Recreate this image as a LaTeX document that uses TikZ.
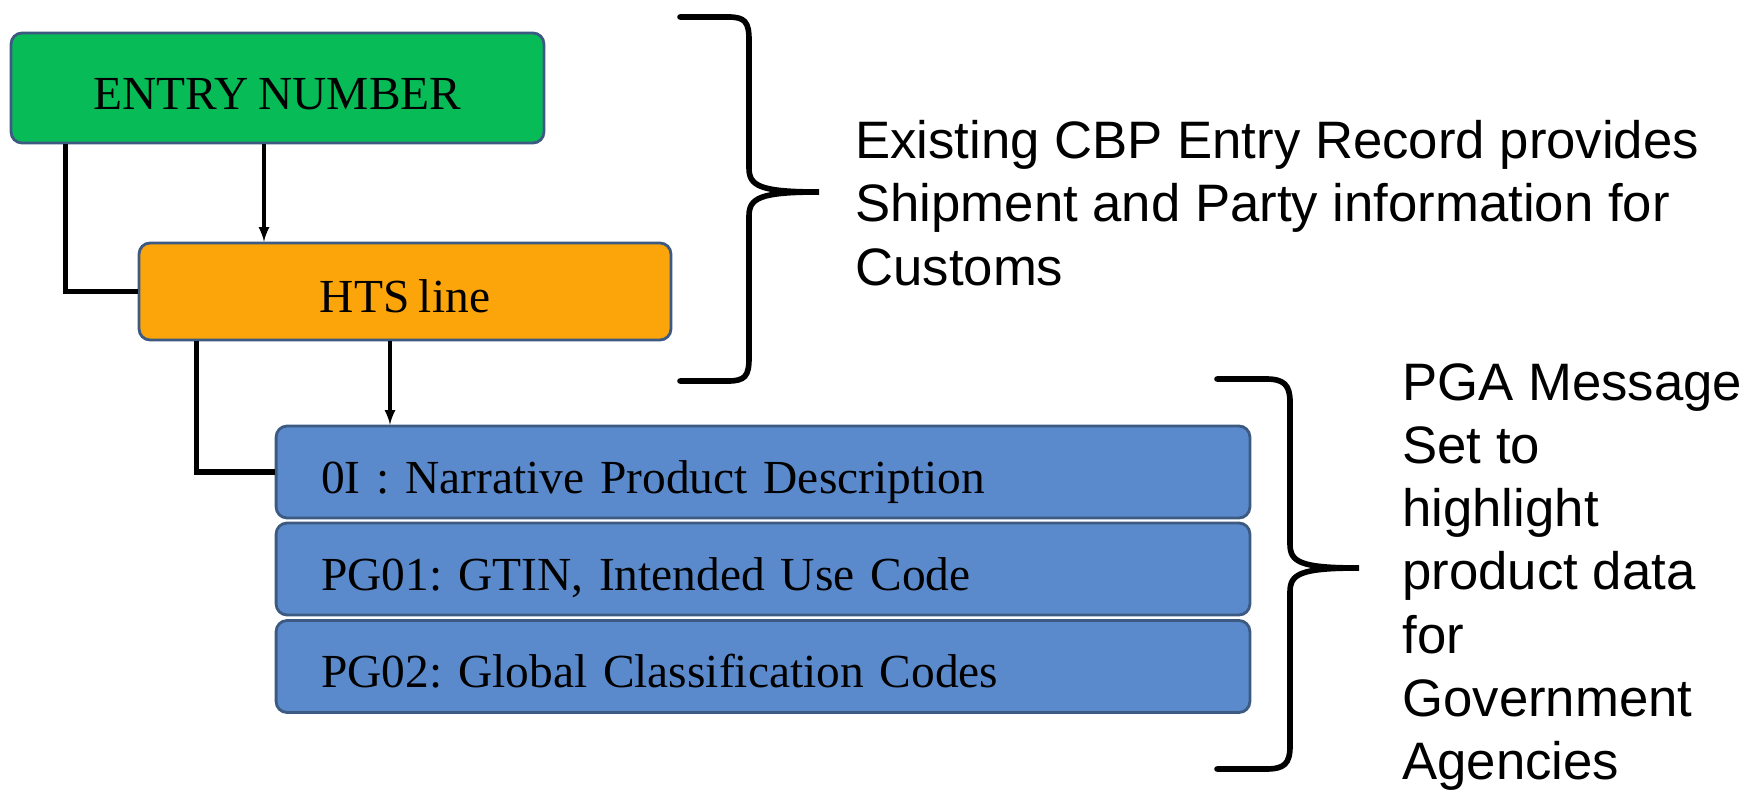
\documentclass[tikz,border=0pt]{standalone}
\usepackage{fontspec}
\setmainfont{Liberation Serif}
\newfontfamily\notefont{Liberation Sans}
\usetikzlibrary{shapes,arrows,positioning,calc}
\definecolor{entrygreen}{HTML}{07BC57}
\definecolor{htsorange}{HTML}{FCA50A}
\definecolor{pgablue}{HTML}{5A8ACB}
\definecolor{edgeblue}{HTML}{3C5A82}
\newcommand{\recfont}{\fontsize{27}{33}\selectfont\frenchspacing\spaceskip=0.2em\relax}

\begin{document}
\begin{tikzpicture}[x=0.02cm, y=-0.02cm]
    \tikzstyle{record} = [rectangle, rounded corners=0.22cm, draw=edgeblue, line width=1.6pt, minimum height=1.84cm, text height=24pt, text depth=0pt, font=\recfont]
    \tikzstyle{pgarec} = [record, fill=pgablue, minimum width=19.48cm, text width=17.68cm, align=left, inner xsep=0.9cm]
    \tikzstyle{elbow} = [line width=3.2pt]
    \tikzstyle{flow} = [line width=1.8pt, ->, >=latex]
    \tikzstyle{brace} = [line width=3.2pt, line cap=round]
    \tikzstyle{note} = [anchor=west, inner sep=0, align=left, font=\notefont\fontsize{30}{36}\selectfont]

    \useasboundingbox (0,0) rectangle (1747,793);

    % Entry record
    \node[record, fill=entrygreen, minimum width=10.66cm, minimum height=2.2cm] (entry) at (277.5,88) {ENTRY NUMBER};
    \node[record, fill=htsorange, minimum width=10.64cm, minimum height=1.94cm] (hts) at (405,291.5) {HTS line};

    % PGA message set
    \node[pgarec] (pg0I) at (763,472) {0I : Narrative Product Description};
    \node[pgarec] (pg01) at (763,569) {PG01: GTIN, Intended Use Code};
    \node[pgarec] (pg02) at (763,666.5) {PG02: Global Classification Codes};

    % Links
    \draw[elbow] (hts.west) -| ([xshift=1.12cm]entry.south west);
    \draw[flow] ([xshift=-0.27cm]entry.south) -- ([xshift=-0.27cm]entry.south |- hts.north);
    \draw[elbow] (pg0I.west) -| ([xshift=1.18cm]hts.south west);
    \draw[flow] ([xshift=-0.3cm]hts.south) -- ([xshift=-0.3cm]hts.south |- pg0I.north);

    % Braces
    \draw[brace] (680,17) -- (728,17) .. controls (745,17) and (749,22) .. (749,40) -- (749,168)
        .. controls (749,186) and (760,192) .. (819,192)
        .. controls (760,192) and (749,198) .. (749,216) -- (749,358)
        .. controls (749,376) and (745,381) .. (728,381) -- (680,381);
    \draw[brace] (1217,379) -- (1266,379) .. controls (1284,379) and (1290,385) .. (1290,402) -- (1290,544)
        .. controls (1290,562) and (1300,568) .. (1359,568)
        .. controls (1300,568) and (1290,574) .. (1290,592) -- (1290,746)
        .. controls (1290,764) and (1284,769) .. (1266,769) -- (1217,769);

    % Notes
    \node[note] (cbpnote) at (855,203) {Existing CBP Entry Record provides\\Shipment and Party information for\\Customs};
    \node[note] (pganote) at (1402,577) {PGA Message\\Set to\\highlight\\product data\\for\\Government\\Agencies};
\end{tikzpicture}
\end{document}
